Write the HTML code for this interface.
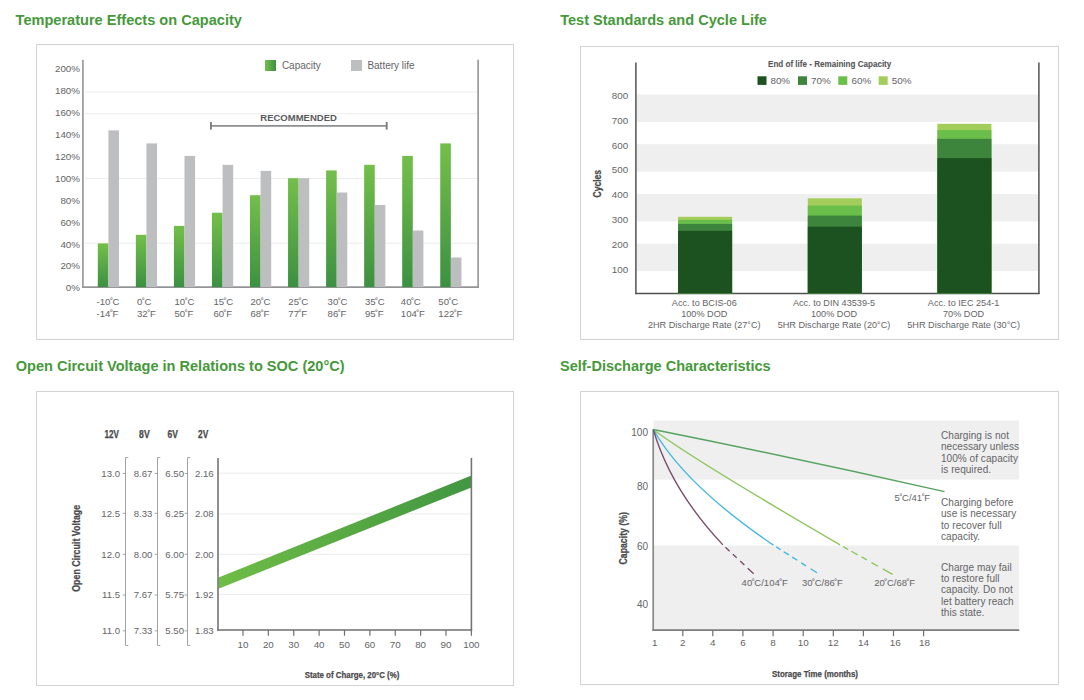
<!DOCTYPE html>
<html><head><meta charset="utf-8"><style>
html,body{margin:0;padding:0;background:#fff;width:1084px;height:700px;overflow:hidden}
svg{display:block;font-family:"Liberation Sans", sans-serif}
</style></head><body>
<svg width="1084" height="700" viewBox="0 0 1084 700">
<defs>
<linearGradient id="gbar" x1="0" y1="0" x2="0" y2="1"><stop offset="0" stop-color="#74bf4a"/><stop offset="1" stop-color="#3c9042"/></linearGradient>
<linearGradient id="gleg" x1="0" y1="0" x2="1" y2="0"><stop offset="0" stop-color="#74bf4a"/><stop offset="1" stop-color="#3c9042"/></linearGradient>
<linearGradient id="gband" x1="0" y1="0" x2="1" y2="0"><stop offset="0" stop-color="#6fbd46"/><stop offset="1" stop-color="#419641"/></linearGradient>
</defs>
<text x="15.6" y="25.3" font-size="15.1" fill="#46993a" font-weight="bold" textLength="226.3" lengthAdjust="spacingAndGlyphs">Temperature Effects on Capacity</text>
<text x="560.2" y="25.3" font-size="15.1" fill="#46993a" font-weight="bold" textLength="206.7" lengthAdjust="spacingAndGlyphs">Test Standards and Cycle Life</text>
<text x="15.7" y="370.8" font-size="15.1" fill="#46993a" font-weight="bold" textLength="328.9" lengthAdjust="spacingAndGlyphs">Open Circuit Voltage in Relations to SOC (20°C)</text>
<text x="560.0" y="370.8" font-size="15.1" fill="#46993a" font-weight="bold" textLength="210.6" lengthAdjust="spacingAndGlyphs">Self-Discharge Characteristics</text>
<rect x="36.5" y="44.5" width="477" height="295" fill="none" stroke="#d3d3d5" stroke-width="1"/>
<line x1="85" y1="92" x2="477" y2="92" stroke="#ececec" stroke-width="1" />
<line x1="85" y1="113.7" x2="477" y2="113.7" stroke="#ececec" stroke-width="1" />
<line x1="85" y1="178.5" x2="477" y2="178.5" stroke="#ececec" stroke-width="1" />
<line x1="85" y1="243.2" x2="477" y2="243.2" stroke="#ececec" stroke-width="1" />
<line x1="82.9" y1="59.7" x2="82.9" y2="287.8" stroke="#939496" stroke-width="1.6" />
<line x1="478.1" y1="59.7" x2="478.1" y2="287.8" stroke="#939496" stroke-width="1.6" />
<line x1="82.2" y1="287.1" x2="478.9" y2="287.1" stroke="#939496" stroke-width="1.6" />
<text x="80.0" y="291.4" font-size="9.8" text-anchor="end" fill="#646466" font-weight="normal" >0%</text>
<text x="80.0" y="269.49" font-size="9.8" text-anchor="end" fill="#646466" font-weight="normal" >20%</text>
<text x="80.0" y="247.57999999999998" font-size="9.8" text-anchor="end" fill="#646466" font-weight="normal" >40%</text>
<text x="80.0" y="225.67" font-size="9.8" text-anchor="end" fill="#646466" font-weight="normal" >60%</text>
<text x="80.0" y="203.76" font-size="9.8" text-anchor="end" fill="#646466" font-weight="normal" >80%</text>
<text x="80.0" y="181.84999999999997" font-size="9.8" text-anchor="end" fill="#646466" font-weight="normal" >100%</text>
<text x="80.0" y="159.94" font-size="9.8" text-anchor="end" fill="#646466" font-weight="normal" >120%</text>
<text x="80.0" y="138.03" font-size="9.8" text-anchor="end" fill="#646466" font-weight="normal" >140%</text>
<text x="80.0" y="116.12" font-size="9.8" text-anchor="end" fill="#646466" font-weight="normal" >160%</text>
<text x="80.0" y="94.20999999999998" font-size="9.8" text-anchor="end" fill="#646466" font-weight="normal" >180%</text>
<text x="80.0" y="72.29999999999998" font-size="9.8" text-anchor="end" fill="#646466" font-weight="normal" >200%</text>
<rect x="97.8" y="243.4" width="10.6" height="43.70000000000002" fill="url(#gbar)" />
<rect x="108.39999999999999" y="130.4" width="10.6" height="156.70000000000002" fill="#bdbec0" />
<text x="96.5" y="304.5" font-size="9.6" text-anchor="start" fill="#646466" font-weight="normal" >-10<tspan dx="-0.5">˚</tspan><tspan dx="-0.5">C</tspan></text>
<text x="96.5" y="316.5" font-size="9.6" text-anchor="start" fill="#646466" font-weight="normal" >-14<tspan dx="-0.5">˚</tspan><tspan dx="-0.5">F</tspan></text>
<rect x="135.85" y="234.8" width="10.6" height="52.30000000000001" fill="url(#gbar)" />
<rect x="146.45" y="143.4" width="10.6" height="143.70000000000002" fill="#bdbec0" />
<text x="137" y="304.5" font-size="9.6" text-anchor="start" fill="#646466" font-weight="normal" >0<tspan dx="-0.5">˚</tspan><tspan dx="-0.5">C</tspan></text>
<text x="137" y="316.5" font-size="9.6" text-anchor="start" fill="#646466" font-weight="normal" >32<tspan dx="-0.5">˚</tspan><tspan dx="-0.5">F</tspan></text>
<rect x="173.89999999999998" y="225.9" width="10.6" height="61.20000000000002" fill="url(#gbar)" />
<rect x="184.49999999999997" y="155.9" width="10.6" height="131.20000000000002" fill="#bdbec0" />
<text x="174.5" y="304.5" font-size="9.6" text-anchor="start" fill="#646466" font-weight="normal" >10<tspan dx="-0.5">˚</tspan><tspan dx="-0.5">C</tspan></text>
<text x="174.5" y="316.5" font-size="9.6" text-anchor="start" fill="#646466" font-weight="normal" >50<tspan dx="-0.5">˚</tspan><tspan dx="-0.5">F</tspan></text>
<rect x="211.95" y="212.7" width="10.6" height="74.40000000000003" fill="url(#gbar)" />
<rect x="222.54999999999998" y="164.8" width="10.6" height="122.30000000000001" fill="#bdbec0" />
<text x="213.4" y="304.5" font-size="9.6" text-anchor="start" fill="#646466" font-weight="normal" >15<tspan dx="-0.5">˚</tspan><tspan dx="-0.5">C</tspan></text>
<text x="213.4" y="316.5" font-size="9.6" text-anchor="start" fill="#646466" font-weight="normal" >60<tspan dx="-0.5">˚</tspan><tspan dx="-0.5">F</tspan></text>
<rect x="250.0" y="195.2" width="10.6" height="91.90000000000003" fill="url(#gbar)" />
<rect x="260.6" y="170.9" width="10.6" height="116.20000000000002" fill="#bdbec0" />
<text x="250.5" y="304.5" font-size="9.6" text-anchor="start" fill="#646466" font-weight="normal" >20<tspan dx="-0.5">˚</tspan><tspan dx="-0.5">C</tspan></text>
<text x="250.5" y="316.5" font-size="9.6" text-anchor="start" fill="#646466" font-weight="normal" >68<tspan dx="-0.5">˚</tspan><tspan dx="-0.5">F</tspan></text>
<rect x="288.05" y="178.2" width="10.6" height="108.90000000000003" fill="url(#gbar)" />
<rect x="298.65000000000003" y="178.2" width="10.6" height="108.90000000000003" fill="#bdbec0" />
<text x="288.3" y="304.5" font-size="9.6" text-anchor="start" fill="#646466" font-weight="normal" >25<tspan dx="-0.5">˚</tspan><tspan dx="-0.5">C</tspan></text>
<text x="288.3" y="316.5" font-size="9.6" text-anchor="start" fill="#646466" font-weight="normal" >77<tspan dx="-0.5">˚</tspan><tspan dx="-0.5">F</tspan></text>
<rect x="326.09999999999997" y="170.4" width="10.6" height="116.70000000000002" fill="url(#gbar)" />
<rect x="336.7" y="192.5" width="10.6" height="94.60000000000002" fill="#bdbec0" />
<text x="327.6" y="304.5" font-size="9.6" text-anchor="start" fill="#646466" font-weight="normal" >30<tspan dx="-0.5">˚</tspan><tspan dx="-0.5">C</tspan></text>
<text x="327.6" y="316.5" font-size="9.6" text-anchor="start" fill="#646466" font-weight="normal" >86<tspan dx="-0.5">˚</tspan><tspan dx="-0.5">F</tspan></text>
<rect x="364.15" y="164.8" width="10.6" height="122.30000000000001" fill="url(#gbar)" />
<rect x="374.75" y="205" width="10.6" height="82.10000000000002" fill="#bdbec0" />
<text x="364.9" y="304.5" font-size="9.6" text-anchor="start" fill="#646466" font-weight="normal" >35<tspan dx="-0.5">˚</tspan><tspan dx="-0.5">C</tspan></text>
<text x="364.9" y="316.5" font-size="9.6" text-anchor="start" fill="#646466" font-weight="normal" >95<tspan dx="-0.5">˚</tspan><tspan dx="-0.5">F</tspan></text>
<rect x="402.2" y="155.9" width="10.6" height="131.20000000000002" fill="url(#gbar)" />
<rect x="412.8" y="230.5" width="10.6" height="56.60000000000002" fill="#bdbec0" />
<text x="400.8" y="304.5" font-size="9.6" text-anchor="start" fill="#646466" font-weight="normal" >40<tspan dx="-0.5">˚</tspan><tspan dx="-0.5">C</tspan></text>
<text x="400.8" y="316.5" font-size="9.6" text-anchor="start" fill="#646466" font-weight="normal" >104<tspan dx="-0.5">˚</tspan><tspan dx="-0.5">F</tspan></text>
<rect x="440.25" y="143.4" width="10.6" height="143.70000000000002" fill="url(#gbar)" />
<rect x="450.85" y="257.5" width="10.6" height="29.600000000000023" fill="#bdbec0" />
<text x="438.3" y="304.5" font-size="9.6" text-anchor="start" fill="#646466" font-weight="normal" >50<tspan dx="-0.5">˚</tspan><tspan dx="-0.5">C</tspan></text>
<text x="438.3" y="316.5" font-size="9.6" text-anchor="start" fill="#646466" font-weight="normal" >122<tspan dx="-0.5">˚</tspan><tspan dx="-0.5">F</tspan></text>
<rect x="265" y="60" width="11" height="11" fill="url(#gleg)" />
<text x="281.9" y="68.7" font-size="10" text-anchor="start" fill="#646466" font-weight="normal" >Capacity</text>
<rect x="351" y="60" width="11" height="11" fill="#bdbec0" />
<text x="367.4" y="68.7" font-size="10" text-anchor="start" fill="#646466" font-weight="normal" >Battery life</text>
<text x="260.3" y="120.9" font-size="9.9" fill="#5a5a5c" font-weight="bold" textLength="76.6" lengthAdjust="spacingAndGlyphs">RECOMMENDED</text>
<line x1="210.9" y1="125.9" x2="386.7" y2="125.9" stroke="#8c8e90" stroke-width="1.9" />
<line x1="210.9" y1="122" x2="210.9" y2="129.6" stroke="#7c7e80" stroke-width="1.9" />
<line x1="386.7" y1="122" x2="386.7" y2="129.6" stroke="#7c7e80" stroke-width="1.9" />
<rect x="580.5" y="46.5" width="478" height="293" fill="none" stroke="#d3d3d5" stroke-width="1"/>
<rect x="636.5" y="94.51999999999998" width="402" height="27.460000000000008" fill="#efefef" />
<rect x="636.5" y="144.23999999999998" width="402" height="27.45999999999998" fill="#efefef" />
<rect x="636.5" y="193.95999999999998" width="402" height="27.460000000000008" fill="#efefef" />
<rect x="636.5" y="243.67999999999998" width="402" height="27.460000000000008" fill="#efefef" />
<line x1="635.9" y1="62.4" x2="635.9" y2="294" stroke="#4f5254" stroke-width="1.5" />
<line x1="1038.9" y1="62.4" x2="1038.9" y2="294" stroke="#4f5254" stroke-width="1.5" />
<line x1="635.2" y1="293.4" x2="1039.6" y2="293.4" stroke="#4f5254" stroke-width="1.5" />
<text x="628.2" y="272.84" font-size="9.8" text-anchor="end" fill="#646466" font-weight="normal" >100</text>
<text x="628.2" y="247.98" font-size="9.8" text-anchor="end" fill="#646466" font-weight="normal" >200</text>
<text x="628.2" y="223.12" font-size="9.8" text-anchor="end" fill="#646466" font-weight="normal" >300</text>
<text x="628.2" y="198.26" font-size="9.8" text-anchor="end" fill="#646466" font-weight="normal" >400</text>
<text x="628.2" y="173.39999999999998" font-size="9.8" text-anchor="end" fill="#646466" font-weight="normal" >500</text>
<text x="628.2" y="148.54" font-size="9.8" text-anchor="end" fill="#646466" font-weight="normal" >600</text>
<text x="628.2" y="123.67999999999999" font-size="9.8" text-anchor="end" fill="#646466" font-weight="normal" >700</text>
<text x="628.2" y="98.81999999999998" font-size="9.8" text-anchor="end" fill="#646466" font-weight="normal" >800</text>
<rect x="678.1" y="216.8" width="54" height="76.59999999999997" fill="#a3cd5a" />
<rect x="678.1" y="219.8" width="54" height="73.59999999999997" fill="#6abf4b" />
<rect x="678.1" y="223.9" width="54" height="69.49999999999997" fill="#3d843c" />
<rect x="678.1" y="230.8" width="54" height="62.599999999999966" fill="#1b5220" />
<rect x="807.8" y="198.3" width="54" height="95.09999999999997" fill="#a3cd5a" />
<rect x="807.8" y="205.6" width="54" height="87.79999999999998" fill="#6abf4b" />
<rect x="807.8" y="215.6" width="54" height="77.79999999999998" fill="#3d843c" />
<rect x="807.8" y="226.7" width="54" height="66.69999999999999" fill="#1b5220" />
<rect x="937.4" y="123.8" width="54" height="169.59999999999997" fill="#a3cd5a" />
<rect x="937.4" y="130.1" width="54" height="163.29999999999998" fill="#6abf4b" />
<rect x="937.4" y="138.8" width="54" height="154.59999999999997" fill="#3d843c" />
<rect x="937.4" y="158.1" width="54" height="135.29999999999998" fill="#1b5220" />
<text x="704.3000000000001" y="305.9" font-size="9.15" text-anchor="middle" fill="#646466" font-weight="normal" >Acc. to BCIS-06</text>
<text x="704.3000000000001" y="317.0" font-size="9.15" text-anchor="middle" fill="#646466" font-weight="normal" >100% DOD</text>
<text x="704.3000000000001" y="328.09999999999997" font-size="9.15" text-anchor="middle" fill="#646466" font-weight="normal" >2HR Discharge Rate (27°C)</text>
<text x="834.0" y="305.9" font-size="9.15" text-anchor="middle" fill="#646466" font-weight="normal" >Acc. to DIN 43539-5</text>
<text x="834.0" y="317.0" font-size="9.15" text-anchor="middle" fill="#646466" font-weight="normal" >100% DOD</text>
<text x="834.0" y="328.09999999999997" font-size="9.15" text-anchor="middle" fill="#646466" font-weight="normal" >5HR Discharge Rate (20°C)</text>
<text x="963.6" y="305.9" font-size="9.15" text-anchor="middle" fill="#646466" font-weight="normal" >Acc. to IEC 254-1</text>
<text x="963.6" y="317.0" font-size="9.15" text-anchor="middle" fill="#646466" font-weight="normal" >70% DOD</text>
<text x="963.6" y="328.09999999999997" font-size="9.15" text-anchor="middle" fill="#646466" font-weight="normal" >5HR Discharge Rate (30°C)</text>
<text x="768" y="66.9" font-size="9.3" text-anchor="start" fill="#555557" stroke="#555557" stroke-width="0.1" font-weight="bold" textLength="123.3" lengthAdjust="spacingAndGlyphs">End of life - Remaining Capacity</text>
<rect x="757.5" y="76.3" width="9" height="8.6" fill="#1b5220" />
<text x="770.4" y="83.6" font-size="9.9" text-anchor="start" fill="#646466" font-weight="normal" >80%</text>
<rect x="798" y="76.3" width="9" height="8.6" fill="#3d843c" />
<text x="811" y="83.6" font-size="9.9" text-anchor="start" fill="#646466" font-weight="normal" >70%</text>
<rect x="838.3" y="76.3" width="9" height="8.6" fill="#6abf4b" />
<text x="851.5" y="83.6" font-size="9.9" text-anchor="start" fill="#646466" font-weight="normal" >60%</text>
<rect x="878.7" y="76.3" width="9" height="8.6" fill="#a3cd5a" />
<text x="891.7" y="83.6" font-size="9.9" text-anchor="start" fill="#646466" font-weight="normal" >50%</text>
<text x="601.3" y="183.75" font-size="11.2" text-anchor="middle" fill="#4a4a4c" stroke="#4a4a4c" stroke-width="0.25" font-weight="bold" textLength="27.5" lengthAdjust="spacingAndGlyphs" transform="rotate(-90 601.3 183.75)">Cycles</text>
<rect x="36.5" y="391.5" width="477" height="294" fill="none" stroke="#d3d3d5" stroke-width="1"/>
<line x1="219" y1="473.2" x2="471" y2="473.2" stroke="#ececec" stroke-width="1" />
<line x1="219" y1="513.9" x2="471" y2="513.9" stroke="#ececec" stroke-width="1" />
<line x1="219" y1="554.3" x2="471" y2="554.3" stroke="#ececec" stroke-width="1" />
<line x1="219" y1="594.6" x2="471" y2="594.6" stroke="#ececec" stroke-width="1" />
<polygon points="218.5,577.6 471.4,475.6 471.4,487.4 218.5,588.7" fill="url(#gband)"/>
<line x1="218.0" y1="457.9" x2="218.0" y2="630.7" stroke="#747476" stroke-width="1.6" />
<line x1="471.4" y1="457.9" x2="471.4" y2="630.7" stroke="#747476" stroke-width="1.6" />
<line x1="217.2" y1="630.0" x2="472.1" y2="630.0" stroke="#6e6e70" stroke-width="1.4" />
<text x="120" y="476.79999999999995" font-size="9.6" text-anchor="end" fill="#646466" font-weight="normal" >13.0</text>
<text x="120" y="516.6999999999999" font-size="9.6" text-anchor="end" fill="#646466" font-weight="normal" >12.5</text>
<text x="120" y="557.6999999999999" font-size="9.6" text-anchor="end" fill="#646466" font-weight="normal" >12.0</text>
<text x="120" y="598.4" font-size="9.6" text-anchor="end" fill="#646466" font-weight="normal" >11.5</text>
<text x="120" y="634.1999999999999" font-size="9.6" text-anchor="end" fill="#646466" font-weight="normal" >11.0</text>
<text x="152.4" y="476.79999999999995" font-size="9.6" text-anchor="end" fill="#646466" font-weight="normal" >8.67</text>
<text x="152.4" y="516.6999999999999" font-size="9.6" text-anchor="end" fill="#646466" font-weight="normal" >8.33</text>
<text x="152.4" y="557.6999999999999" font-size="9.6" text-anchor="end" fill="#646466" font-weight="normal" >8.00</text>
<text x="152.4" y="598.4" font-size="9.6" text-anchor="end" fill="#646466" font-weight="normal" >7.67</text>
<text x="152.4" y="634.1999999999999" font-size="9.6" text-anchor="end" fill="#646466" font-weight="normal" >7.33</text>
<text x="184" y="476.79999999999995" font-size="9.6" text-anchor="end" fill="#646466" font-weight="normal" >6.50</text>
<text x="184" y="516.6999999999999" font-size="9.6" text-anchor="end" fill="#646466" font-weight="normal" >6.25</text>
<text x="184" y="557.6999999999999" font-size="9.6" text-anchor="end" fill="#646466" font-weight="normal" >6.00</text>
<text x="184" y="598.4" font-size="9.6" text-anchor="end" fill="#646466" font-weight="normal" >5.75</text>
<text x="184" y="634.1999999999999" font-size="9.6" text-anchor="end" fill="#646466" font-weight="normal" >5.50</text>
<text x="213.6" y="476.79999999999995" font-size="9.6" text-anchor="end" fill="#646466" font-weight="normal" >2.16</text>
<text x="213.6" y="516.6999999999999" font-size="9.6" text-anchor="end" fill="#646466" font-weight="normal" >2.08</text>
<text x="213.6" y="557.6999999999999" font-size="9.6" text-anchor="end" fill="#646466" font-weight="normal" >2.00</text>
<text x="213.6" y="598.4" font-size="9.6" text-anchor="end" fill="#646466" font-weight="normal" >1.92</text>
<text x="213.6" y="634.1999999999999" font-size="9.6" text-anchor="end" fill="#646466" font-weight="normal" >1.83</text>
<path d="M128.3 457.6 H125.5 V645.4 H128.3" fill="none" stroke="#a2a2a4" stroke-width="1"/>
<line x1="122.7" y1="473.4" x2="125.5" y2="473.4" stroke="#a2a2a4" stroke-width="1" />
<line x1="122.7" y1="513.3" x2="125.5" y2="513.3" stroke="#a2a2a4" stroke-width="1" />
<line x1="122.7" y1="554.3" x2="125.5" y2="554.3" stroke="#a2a2a4" stroke-width="1" />
<line x1="122.7" y1="595" x2="125.5" y2="595" stroke="#a2a2a4" stroke-width="1" />
<line x1="122.7" y1="630.8" x2="125.5" y2="630.8" stroke="#a2a2a4" stroke-width="1" />
<path d="M160.3 457.6 H157.5 V645.4 H160.3" fill="none" stroke="#a2a2a4" stroke-width="1"/>
<line x1="154.7" y1="473.4" x2="157.5" y2="473.4" stroke="#a2a2a4" stroke-width="1" />
<line x1="154.7" y1="513.3" x2="157.5" y2="513.3" stroke="#a2a2a4" stroke-width="1" />
<line x1="154.7" y1="554.3" x2="157.5" y2="554.3" stroke="#a2a2a4" stroke-width="1" />
<line x1="154.7" y1="595" x2="157.5" y2="595" stroke="#a2a2a4" stroke-width="1" />
<line x1="154.7" y1="630.8" x2="157.5" y2="630.8" stroke="#a2a2a4" stroke-width="1" />
<path d="M190.3 457.6 H187.5 V645.4 H190.3" fill="none" stroke="#a2a2a4" stroke-width="1"/>
<line x1="184.7" y1="473.4" x2="187.5" y2="473.4" stroke="#a2a2a4" stroke-width="1" />
<line x1="184.7" y1="513.3" x2="187.5" y2="513.3" stroke="#a2a2a4" stroke-width="1" />
<line x1="184.7" y1="554.3" x2="187.5" y2="554.3" stroke="#a2a2a4" stroke-width="1" />
<line x1="184.7" y1="595" x2="187.5" y2="595" stroke="#a2a2a4" stroke-width="1" />
<line x1="184.7" y1="630.8" x2="187.5" y2="630.8" stroke="#a2a2a4" stroke-width="1" />
<text x="111.6" y="438" font-size="10" text-anchor="middle" fill="#4a4a4c" stroke="#4a4a4c" stroke-width="0.25" font-weight="bold" textLength="14.4" lengthAdjust="spacingAndGlyphs">12V</text>
<text x="144.4" y="438" font-size="10" text-anchor="middle" fill="#4a4a4c" stroke="#4a4a4c" stroke-width="0.25" font-weight="bold" textLength="10.6" lengthAdjust="spacingAndGlyphs">8V</text>
<text x="172.8" y="438" font-size="10" text-anchor="middle" fill="#4a4a4c" stroke="#4a4a4c" stroke-width="0.25" font-weight="bold" textLength="10.4" lengthAdjust="spacingAndGlyphs">6V</text>
<text x="203.2" y="438" font-size="10" text-anchor="middle" fill="#4a4a4c" stroke="#4a4a4c" stroke-width="0.25" font-weight="bold" textLength="10.2" lengthAdjust="spacingAndGlyphs">2V</text>
<text x="80.5" y="548.3" font-size="10" text-anchor="middle" fill="#4a4a4c" stroke="#4a4a4c" stroke-width="0.25" font-weight="bold" textLength="87" lengthAdjust="spacingAndGlyphs" transform="rotate(-90 80.5 548.3)">Open Circuit Voltage</text>
<line x1="242.98" y1="630" x2="242.98" y2="635.7" stroke="#6e6e70" stroke-width="1.2" />
<text x="242.98" y="647.5" font-size="9.8" text-anchor="middle" fill="#646466" font-weight="normal" >10</text>
<line x1="268.36" y1="630" x2="268.36" y2="635.7" stroke="#6e6e70" stroke-width="1.2" />
<text x="268.36" y="647.5" font-size="9.8" text-anchor="middle" fill="#646466" font-weight="normal" >20</text>
<line x1="293.74" y1="630" x2="293.74" y2="635.7" stroke="#6e6e70" stroke-width="1.2" />
<text x="293.74" y="647.5" font-size="9.8" text-anchor="middle" fill="#646466" font-weight="normal" >30</text>
<line x1="319.12" y1="630" x2="319.12" y2="635.7" stroke="#6e6e70" stroke-width="1.2" />
<text x="319.12" y="647.5" font-size="9.8" text-anchor="middle" fill="#646466" font-weight="normal" >40</text>
<line x1="344.5" y1="630" x2="344.5" y2="635.7" stroke="#6e6e70" stroke-width="1.2" />
<text x="344.5" y="647.5" font-size="9.8" text-anchor="middle" fill="#646466" font-weight="normal" >50</text>
<line x1="369.88" y1="630" x2="369.88" y2="635.7" stroke="#6e6e70" stroke-width="1.2" />
<text x="369.88" y="647.5" font-size="9.8" text-anchor="middle" fill="#646466" font-weight="normal" >60</text>
<line x1="395.26" y1="630" x2="395.26" y2="635.7" stroke="#6e6e70" stroke-width="1.2" />
<text x="395.26" y="647.5" font-size="9.8" text-anchor="middle" fill="#646466" font-weight="normal" >70</text>
<line x1="420.64" y1="630" x2="420.64" y2="635.7" stroke="#6e6e70" stroke-width="1.2" />
<text x="420.64" y="647.5" font-size="9.8" text-anchor="middle" fill="#646466" font-weight="normal" >80</text>
<line x1="446.02" y1="630" x2="446.02" y2="635.7" stroke="#6e6e70" stroke-width="1.2" />
<text x="446.02" y="647.5" font-size="9.8" text-anchor="middle" fill="#646466" font-weight="normal" >90</text>
<line x1="471.4" y1="630" x2="471.4" y2="635.7" stroke="#6e6e70" stroke-width="1.2" />
<text x="471.4" y="647.5" font-size="9.8" text-anchor="middle" fill="#646466" font-weight="normal" >100</text>
<text x="352" y="677.8" font-size="9" text-anchor="middle" fill="#4a4a4c" stroke="#4a4a4c" stroke-width="0.25" font-weight="bold" textLength="94.7" lengthAdjust="spacingAndGlyphs">State of Charge, 20°C (%)</text>
<rect x="580.5" y="391.5" width="478" height="293" fill="none" stroke="#d3d3d5" stroke-width="1"/>
<rect x="653.5" y="420.5" width="365.5" height="59.1" fill="#efefef" />
<rect x="653.5" y="545.5" width="365.5" height="84.4" fill="#efefef" />
<line x1="653.2" y1="429.5" x2="653.2" y2="630.7" stroke="#88898b" stroke-width="1.7" />
<line x1="652.4" y1="630.2" x2="1019.3" y2="630.2" stroke="#7c7d7f" stroke-width="1.7" />
<text x="648.0" y="436.4" font-size="10" text-anchor="end" fill="#646466" font-weight="normal" >100</text>
<text x="648.0" y="490.4" font-size="10" text-anchor="end" fill="#646466" font-weight="normal" >80</text>
<text x="648.0" y="549.8" font-size="10" text-anchor="end" fill="#646466" font-weight="normal" >60</text>
<text x="648.0" y="608.1" font-size="10" text-anchor="end" fill="#646466" font-weight="normal" >40</text>
<text x="654.8" y="646.4" font-size="9.9" text-anchor="middle" fill="#646466" font-weight="normal" >1</text>
<line x1="682.8" y1="630.2" x2="682.8" y2="636.2" stroke="#6e6e70" stroke-width="1.2" />
<text x="682.8" y="646.4" font-size="9.9" text-anchor="middle" fill="#646466" font-weight="normal" >2</text>
<line x1="712.8" y1="630.2" x2="712.8" y2="636.2" stroke="#6e6e70" stroke-width="1.2" />
<text x="712.8" y="646.4" font-size="9.9" text-anchor="middle" fill="#646466" font-weight="normal" >4</text>
<line x1="742.9" y1="630.2" x2="742.9" y2="636.2" stroke="#6e6e70" stroke-width="1.2" />
<text x="742.9" y="646.4" font-size="9.9" text-anchor="middle" fill="#646466" font-weight="normal" >6</text>
<line x1="773.1" y1="630.2" x2="773.1" y2="636.2" stroke="#6e6e70" stroke-width="1.2" />
<text x="773.1" y="646.4" font-size="9.9" text-anchor="middle" fill="#646466" font-weight="normal" >8</text>
<line x1="803.2" y1="630.2" x2="803.2" y2="636.2" stroke="#6e6e70" stroke-width="1.2" />
<text x="803.2" y="646.4" font-size="9.9" text-anchor="middle" fill="#646466" font-weight="normal" >10</text>
<line x1="833.3" y1="630.2" x2="833.3" y2="636.2" stroke="#6e6e70" stroke-width="1.2" />
<text x="833.3" y="646.4" font-size="9.9" text-anchor="middle" fill="#646466" font-weight="normal" >12</text>
<line x1="863.4" y1="630.2" x2="863.4" y2="636.2" stroke="#6e6e70" stroke-width="1.2" />
<text x="863.4" y="646.4" font-size="9.9" text-anchor="middle" fill="#646466" font-weight="normal" >14</text>
<line x1="893.5" y1="630.2" x2="893.5" y2="636.2" stroke="#6e6e70" stroke-width="1.2" />
<text x="895.3" y="646.4" font-size="9.9" text-anchor="middle" fill="#646466" font-weight="normal" >16</text>
<line x1="923.6" y1="630.2" x2="923.6" y2="636.2" stroke="#6e6e70" stroke-width="1.2" />
<text x="924.6" y="646.4" font-size="9.9" text-anchor="middle" fill="#646466" font-weight="normal" >18</text>
<text x="815" y="677.2" font-size="9" text-anchor="middle" fill="#4a4a4c" stroke="#4a4a4c" stroke-width="0.25" font-weight="bold" textLength="86" lengthAdjust="spacingAndGlyphs">Storage Time (months)</text>
<text x="627.3" y="538.3" font-size="10.5" text-anchor="middle" fill="#4a4a4c" stroke="#4a4a4c" stroke-width="0.25" font-weight="bold" textLength="52.5" lengthAdjust="spacingAndGlyphs" transform="rotate(-90 627.3 538.3)">Capacity (%)</text>
<path d="M653.3 429.5 Q800.8 459 944.5 491.7" fill="none" stroke="#56a35f" stroke-width="1.35"/>
<path d="M653.3 429.5 Q690.8 458 840.1 544.9" fill="none" stroke="#8cc65c" stroke-width="1.35"/>
<line x1="840.1" y1="544.9" x2="893.1" y2="574.7" stroke="#8cc65c" stroke-width="1.35" stroke-dasharray="0 3.4 5.6 3.9 7.3 4.4 6.1 5.3 7.5 5.4 11.4 50"/>
<path d="M653.3 429.5 Q684.8 485 773.4 545.1" fill="none" stroke="#3db7e0" stroke-width="1.35"/>
<line x1="773.4" y1="545.1" x2="817.1" y2="572.9" stroke="#3db7e0" stroke-width="1.35" stroke-dasharray="0 3.4 5.3 3.6 6 4 6 4.7 5.6 5.5 7.5 50"/>
<path d="M653.3 429.5 Q670.8 489.5 722.9 544.9" fill="none" stroke="#7b4a6c" stroke-width="1.35"/>
<line x1="722.9" y1="544.9" x2="753.7" y2="573.7" stroke="#7b4a6c" stroke-width="1.35" stroke-dasharray="0 3.5 5.7 4.5 5.2 4.8 5.7 4.7 8 50"/>
<text x="894.6" y="500.6" font-size="9.5" text-anchor="start" fill="#646466" font-weight="normal" >5<tspan dx="-0.5">˚</tspan><tspan dx="-0.5">C/41<tspan dx="-0.5">˚</tspan><tspan dx="-0.5">F</tspan></tspan></text>
<text x="741.6" y="585.8" font-size="9.5" text-anchor="start" fill="#646466" font-weight="normal" >40<tspan dx="-0.5">˚</tspan><tspan dx="-0.5">C/104<tspan dx="-0.5">˚</tspan><tspan dx="-0.5">F</tspan></tspan></text>
<text x="801.9" y="585.8" font-size="9.5" text-anchor="start" fill="#646466" font-weight="normal" >30<tspan dx="-0.5">˚</tspan><tspan dx="-0.5">C/86<tspan dx="-0.5">˚</tspan><tspan dx="-0.5">F</tspan></tspan></text>
<text x="874.2" y="585.8" font-size="9.5" text-anchor="start" fill="#646466" font-weight="normal" >20<tspan dx="-0.5">˚</tspan><tspan dx="-0.5">C/68<tspan dx="-0.5">˚</tspan><tspan dx="-0.5">F</tspan></tspan></text>
<text x="941" y="438.8" font-size="10" text-anchor="start" fill="#646466" font-weight="normal" letter-spacing="0.05">Charging is not</text>
<text x="941" y="450.15000000000003" font-size="10" text-anchor="start" fill="#646466" font-weight="normal" letter-spacing="0.05">necessary unless</text>
<text x="941" y="461.5" font-size="10" text-anchor="start" fill="#646466" font-weight="normal" letter-spacing="0.05">100% of capacity</text>
<text x="941" y="472.85" font-size="10" text-anchor="start" fill="#646466" font-weight="normal" letter-spacing="0.05">is required.</text>
<text x="941" y="505.8" font-size="10" text-anchor="start" fill="#646466" font-weight="normal" letter-spacing="0.05">Charging before</text>
<text x="941" y="517.15" font-size="10" text-anchor="start" fill="#646466" font-weight="normal" letter-spacing="0.05">use is necessary</text>
<text x="941" y="528.5" font-size="10" text-anchor="start" fill="#646466" font-weight="normal" letter-spacing="0.05">to recover full</text>
<text x="941" y="539.85" font-size="10" text-anchor="start" fill="#646466" font-weight="normal" letter-spacing="0.05">capacity.</text>
<text x="941" y="570.5" font-size="10" text-anchor="start" fill="#646466" font-weight="normal" letter-spacing="0.05">Charge may fail</text>
<text x="941" y="581.85" font-size="10" text-anchor="start" fill="#646466" font-weight="normal" letter-spacing="0.05">to restore full</text>
<text x="941" y="593.2" font-size="10" text-anchor="start" fill="#646466" font-weight="normal" letter-spacing="0.05">capacity. Do not</text>
<text x="941" y="604.55" font-size="10" text-anchor="start" fill="#646466" font-weight="normal" letter-spacing="0.05">let battery reach</text>
<text x="941" y="615.9" font-size="10" text-anchor="start" fill="#646466" font-weight="normal" letter-spacing="0.05">this state.</text>
</svg>
</body></html>
